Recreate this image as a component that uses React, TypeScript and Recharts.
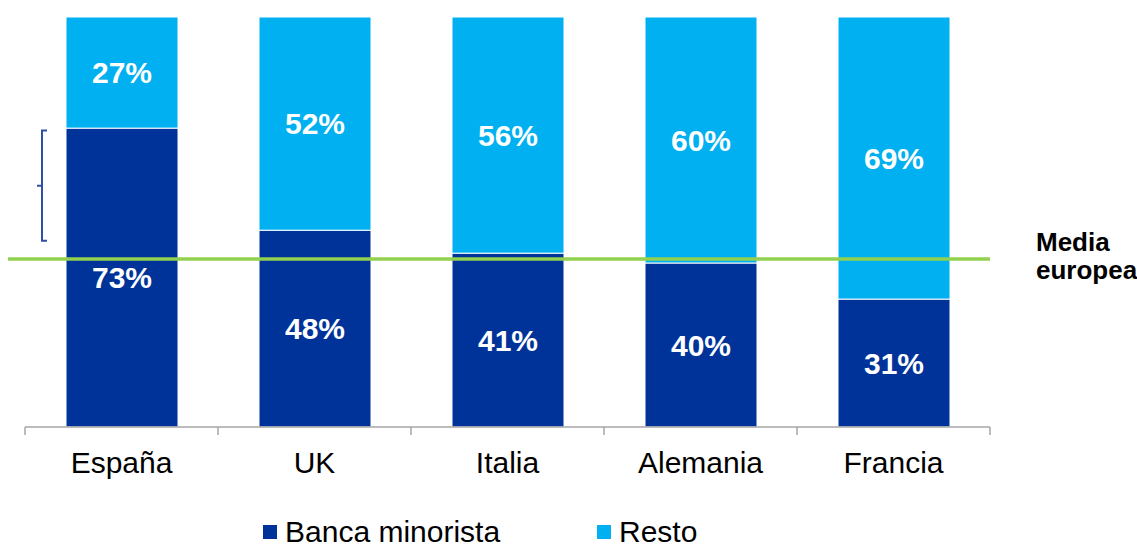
import { BarChart, Bar, XAxis, YAxis, ReferenceLine, LabelList } from 'recharts';

const countries = ['España', 'UK', 'Italia', 'Alemania', 'Francia'];
const banca = [72.9, 48, 42.4, 40, 31.2];
const resto = [27.1, 52, 57.6, 60, 68.8];
const bancaLabels = ['73%', '48%', '41%', '40%', '31%'];
const restoLabels = ['27%', '52%', '56%', '60%', '69%'];
const mediaEuropea = 41;

const DARK = '#003399';
const LIGHT = '#00b0f0';
const GREEN = '#92d050';
const FONT = '"Liberation Sans", Arial, sans-serif';

const W = 1137;
const H = 546;
const M = { top: 17, right: 147, bottom: 59, left: 25 };
const X_AXIS_H = 60;
const plotW = W - M.left - M.right;
const plotH = H - M.top - M.bottom - X_AXIS_H;
const band = plotW / countries.length;

const data = countries.map((c, i) => ({
  name: c,
  banca: banca[i],
  resto: resto[i],
  bancaLabel: bancaLabels[i],
  restoLabel: restoLabels[i],
}));

const yPos = (v: number) => M.top + (1 - v / 100) * plotH;

function CategoryTick(props: any) {
  const { x, payload, index } = props;
  const half = band / 2;
  const top = M.top + plotH;
  return (
    <g>
      <line x1={x - half} x2={x - half} y1={top} y2={top + 8} stroke="#a6a6a6" strokeWidth={1.5} />
      {index === countries.length - 1 && (
        <line x1={x + half} x2={x + half} y1={top} y2={top + 8} stroke="#a6a6a6" strokeWidth={1.5} />
      )}
      <text x={x} y={top + 46} textAnchor="middle" fontSize={30} fill="#000" fontFamily={FONT}>
        {payload.value}
      </text>
    </g>
  );
}

export default function App() {
  const bracketTop = yPos(72.3);
  const bracketBottom = yPos(45.4);
  const bracketMid = (bracketTop + bracketBottom) / 2;

  const legendItem = { position: 'absolute' as const, top: 514, display: 'flex', alignItems: 'center', fontSize: 30, lineHeight: '36px', color: '#000' };
  const swatch = { width: 14, height: 14, display: 'inline-block', marginRight: 8 };

  return (
    <div style={{ position: 'absolute', left: 0, top: 0, width: W, height: H, background: '#fff', fontFamily: FONT }}>
      <BarChart width={W} height={H} data={data} margin={M} barSize={112}>
        <XAxis
          dataKey="name"
          height={X_AXIS_H}
          axisLine={{ stroke: '#a6a6a6', strokeWidth: 1.5 }}
          tickLine={false}
          tick={<CategoryTick />}
          interval={0}
        />
        <YAxis hide domain={[0, 100]} />
        <Bar dataKey="banca" stackId="a" fill={DARK} stroke="#fff" strokeWidth={1} isAnimationActive={false}>
          <LabelList dataKey="bancaLabel" position="center" fill="#fff" fontSize={30} fontWeight="bold" fontFamily={FONT} />
        </Bar>
        <Bar dataKey="resto" stackId="a" fill={LIGHT} stroke="#fff" strokeWidth={1} isAnimationActive={false}>
          <LabelList dataKey="restoLabel" position="center" fill="#fff" fontSize={30} fontWeight="bold" fontFamily={FONT} />
        </Bar>
        <ReferenceLine
          y={mediaEuropea}
          ifOverflow="visible"
          shape={(p: any) => (
            <g>
              <line x1={p.x1 - 17} x2={p.x2} y1={p.y1} y2={p.y2} stroke={GREEN} strokeWidth={3.5} />
              <text x={p.x2 + 46} y={p.y1 - 8} fontSize={26} fontWeight="bold" fill="#000" fontFamily={FONT}>
                Media
              </text>
              <text x={p.x2 + 46} y={p.y1 + 20} fontSize={26} fontWeight="bold" fill="#000" fontFamily={FONT}>
                europea
              </text>
            </g>
          )}
        />
      </BarChart>

      <svg style={{ position: 'absolute', left: 0, top: 0 }} width={W} height={H} pointerEvents="none">
        <path
          d={`M47 ${bracketTop} H42 V${bracketBottom} H47 M42 ${bracketMid} H37`}
          fill="none"
          stroke="#3050a8"
          strokeWidth={2}
        />
      </svg>

      <div style={{ ...legendItem, left: 263 }}>
        <span style={{ ...swatch, background: DARK }} />
        <span>Banca minorista</span>
      </div>
      <div style={{ ...legendItem, left: 597 }}>
        <span style={{ ...swatch, background: LIGHT }} />
        <span>Resto</span>
      </div>
    </div>
  );
}
